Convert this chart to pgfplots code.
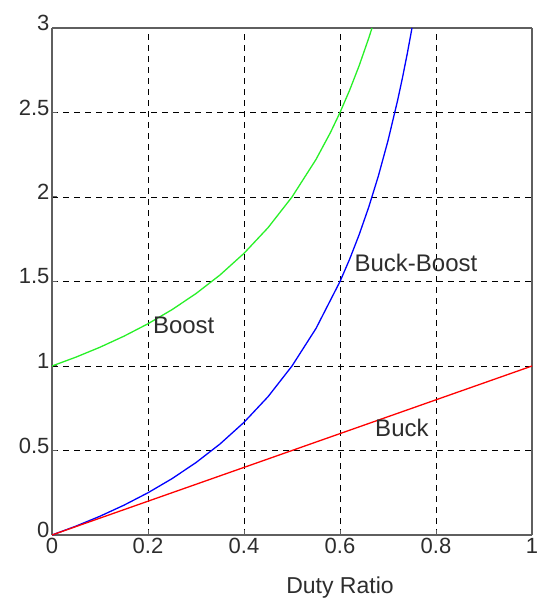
\documentclass[border=0pt]{standalone}
\usepackage{pgfplots}
\pgfplotsset{compat=1.18}
\usepackage{fontspec}
\setmainfont{Liberation Sans}
\definecolor{axgray}{RGB}{95,95,95}
\definecolor{mygreen}{RGB}{40,240,40}
\definecolor{txt}{RGB}{45,45,45}
\begin{document}
\begin{tikzpicture}
\begin{axis}[
  scale only axis,
  width=480pt, height=507pt,
  xmin=0, xmax=1, ymin=0, ymax=3,
  xtick={0,0.2,0.4,0.6,0.8,1},
  ytick={0,0.5,1,1.5,2,2.5,3},
  xticklabels={0,0.2,0.4,0.6,0.8,1},
  yticklabels={0,0.5,1,1.5,2,2.5,3},
  tick align=inside,
  tick pos=left,
  major tick length=5pt,
  separate axis lines,
  axis line style={axgray, line width=1.6pt},
  tick style={axgray, line width=1pt},
  grid=major,
  major grid style={black, line width=0.9pt, dash pattern=on 6pt off 5pt},
  ticklabel style={font=\fontsize{22}{24}\selectfont, text=txt},
  yticklabel style={xshift=1pt, yshift=5pt},
  xticklabel style={yshift=0pt},
  /pgf/number format/assume math mode=true,
  xlabel={Duty Ratio},
  xlabel style={font=\fontsize{23}{25}\selectfont, text=txt, at={(axis description cs:0.6,0)}, anchor=north, yshift=-38pt},
  clip=true,
]
\coordinate (bl) at (rel axis cs:0,0);
\coordinate (tr) at (rel axis cs:1,1);
\addplot[mygreen, line width=1.3pt] coordinates {
(0,1) (0.05,1.0526) (0.1,1.1111) (0.15,1.1765) (0.2,1.25) (0.25,1.3333)
(0.3,1.4286) (0.35,1.5385) (0.4,1.6667) (0.45,1.8182) (0.5,2) (0.55,2.2222)
(0.58,2.381) (0.6,2.5) (0.62,2.6316) (0.64,2.7778) (0.66,2.9412) (0.6667,3.0)
};
\addplot[blue, line width=1.3pt] coordinates {
(0,0) (0.05,0.0526) (0.1,0.1111) (0.15,0.1765) (0.2,0.25) (0.25,0.3333)
(0.3,0.4286) (0.35,0.5385) (0.4,0.6667) (0.45,0.8182) (0.5,1) (0.55,1.2222)
(0.6,1.5) (0.62,1.6316) (0.64,1.7778) (0.66,1.9412) (0.68,2.125) (0.70,2.3333)
(0.72,2.5714) (0.73,2.7037) (0.74,2.8462) (0.75,3)
};
\addplot[red, line width=1.3pt] coordinates {
(0,0) (0.25,0.25) (0.5,0.5) (0.75,0.75) (1,1)
};
\node[font=\fontsize{24}{26}\selectfont, text=txt, inner sep=0pt, anchor=west] at (axis cs:0.21,1.24) {Boost};
\node[font=\fontsize{24}{26}\selectfont, text=txt, inner sep=0pt, anchor=west] at (axis cs:0.63,1.61) {Buck-Boost};
\node[font=\fontsize{24}{26}\selectfont, text=txt, inner sep=0pt, anchor=west] at (axis cs:0.673,0.633) {Buck};
\end{axis}
\path (bl) ++(-52pt,-70pt) coordinate (c1);
\path (tr) ++(4pt,28pt) coordinate (c2);
\path (c1) rectangle (c2);
\end{tikzpicture}
\end{document}
